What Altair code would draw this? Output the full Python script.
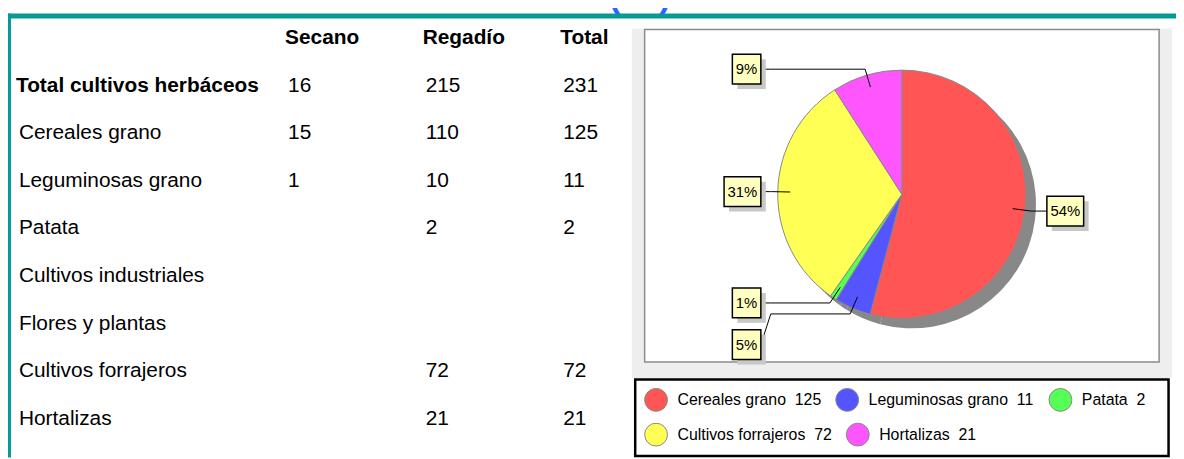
import math
import altair as alt
import pandas as pd

# ---------------- data ----------------
rows = ["Total cultivos herbáceos", "Cereales grano", "Leguminosas grano", "Patata",
        "Cultivos industriales", "Flores y plantas", "Cultivos forrajeros", "Hortalizas"]
cols = ["Secano", "Regadío", "Total"]
secano = [16, 15, 1, None, None, None, None, None]
regadio = [215, 110, 10, 2, None, None, 72, 21]
total = [231, 125, 11, 2, None, None, 72, 21]

pie_cats = ["Cereales grano", "Leguminosas grano", "Patata", "Cultivos forrajeros", "Hortalizas"]
pie_vals = [125, 11, 2, 72, 21]
pie_colors = ["#ff5555", "#5555ff", "#55ff55", "#ffff55", "#ff55ff"]

title_text = "(ha)"

# ---------------- layout (chart coordinates = page - 8) ----------------
W, H = 1176, 451
FONT = "Liberation Sans"
CX, CY, R = 900, 186, 125
TEAL = "#059b95"
TFS = 21  # table font size

# Arial / Liberation Sans advance widths (1/1000 em), used to flow the legend
AW = {" ": 278, "\u00a0": 278, "C": 722, "H": 722, "L": 556, "P": 667,
      "a": 556, "b": 556, "c": 500, "d": 556, "e": 556, "f": 278, "g": 556, "h": 556,
      "i": 222, "j": 222, "k": 500, "l": 222, "m": 833, "n": 556, "o": 556, "p": 556,
      "q": 556, "r": 333, "s": 500, "t": 278, "u": 556, "v": 500, "w": 722, "x": 500,
      "y": 500, "z": 500}


def text_w(s, size):
    return sum(AW.get(ch, 556) for ch in s) / 1000 * size


# ---------------- table ----------------
tbl = []
for i, r in enumerate(rows):
    for c, arr in zip(cols, [secano, regadio, total]):
        if arr[i] is not None:
            tbl.append({"row": r, "col": c, "txt": str(arr[i])})
df_tbl = pd.DataFrame(tbl)
df_head = pd.DataFrame({"row": ["__h__"] * 3, "col": cols})
df_lab = pd.DataFrame({"row": rows, "bold": [True] + [False] * (len(rows) - 1)})

yrow = alt.Scale(type="point", domain=["__h__"] + rows, range=[29, 412], padding=0)
xcol = alt.Scale(type="point", domain=cols, range=[282, 559], padding=0)

values = alt.Chart(df_tbl).mark_text(align="left", baseline="middle", fontSize=TFS, font=FONT, color="black").encode(
    x=alt.X("col:N", scale=xcol, axis=None),
    y=alt.Y("row:N", scale=yrow, axis=None),
    text="txt:N")
header = alt.Chart(df_head).mark_text(align="left", baseline="middle", fontSize=TFS, font=FONT,
                                      fontWeight="bold", color="black", dx=-3).encode(
    x=alt.X("col:N", scale=xcol, axis=None),
    y=alt.Y("row:N", scale=yrow, axis=None),
    text="col:N")
lab_bold = alt.Chart(df_lab).transform_filter("datum.bold").mark_text(
    align="left", baseline="middle", fontSize=TFS, font=FONT, fontWeight="bold", color="black").encode(
    x=alt.value(8), y=alt.Y("row:N", scale=yrow, axis=None), text="row:N")
lab_norm = alt.Chart(df_lab).transform_filter("!datum.bold").mark_text(
    align="left", baseline="middle", fontSize=TFS, font=FONT, color="black").encode(
    x=alt.value(11), y=alt.Y("row:N", scale=yrow, axis=None), text="row:N")

# ---------------- pie ----------------
tot = sum(pie_vals)
leg_labels = [f"{c}\u00a0\u00a0{v}" for c, v in zip(pie_cats, pie_vals)]
df_pie = pd.DataFrame({"cat": pie_cats, "value": pie_vals, "idx": list(range(len(pie_vals))),
                       "leg": leg_labels})
cscale = alt.Scale(domain=pie_cats, range=pie_colors)

shadow = alt.Chart(df_pie).mark_arc(outerRadius=R, xOffset=10, yOffset=10, color="#888888").encode(
    theta=alt.Theta("value:Q", stack=True), order=alt.Order("idx:Q"),
    x=alt.value(CX), y=alt.value(CY))

pie = alt.Chart(df_pie).mark_arc(outerRadius=R, stroke="#888888", strokeWidth=1).encode(
    theta=alt.Theta("value:Q", stack=True),
    order=alt.Order("idx:Q"),
    x=alt.value(CX), y=alt.value(CY),
    color=alt.Color("cat:N", scale=cscale, legend=None))

sx = alt.Scale(domain=[0, W], nice=False, zero=False)
sy = alt.Scale(domain=[0, H], nice=False, zero=False, reverse=True)

# ---------------- pie labels (computed from slice angles) ----------------
labs = []
cum = 0
for c, v in zip(pie_cats, pie_vals):
    mid = (cum + v / 2) / tot * 2 * math.pi
    cum += v
    pct = f"{round(100 * v / tot)}%"
    side = 1 if math.sin(mid) > 0 else -1
    labs.append({
        "lab": pct, "side": side,
        "x0": CX + 0.9 * R * math.sin(mid), "y0": CY - 0.9 * R * math.cos(mid),
        "x1": CX + 1.05 * R * math.sin(mid), "y1": CY - 1.05 * R * math.cos(mid),
    })
for s in (-1, 1):
    grp = sorted([l for l in labs if l["side"] == s], key=lambda l: l["y1"])
    prev = -1e9
    for l in grp:
        l["by"] = max(l["y1"], prev + 42)
        prev = l["by"]

boxes, lines = [], []
for l in labs:
    bw = text_w(l["lab"], 15) + 12
    if l["side"] < 0:
        edge = CX - (R + 17)
        bx = edge - bw / 2
        ex = edge + 10
    else:
        edge = CX + R + 21
        bx = edge + bw / 2
        ex = edge - 10
    boxes.append({"lab": l["lab"], "bx": bx, "by": l["by"],
                  "xa": bx - bw / 2, "xb": bx + bw / 2, "ya": l["by"] - 15, "yb": l["by"] + 15,
                  "sxa": bx - bw / 2 + 5, "sxb": bx + bw / 2 + 5, "sya": l["by"] - 10, "syb": l["by"] + 20})
    pts = [(l["x0"], l["y0"]), (l["x1"], l["y1"]), (ex, l["y1"]), (edge, l["by"])]
    for k, (px, py) in enumerate(pts):
        lines.append({"lab": l["lab"], "k": k, "px": px, "py": py})
df_box = pd.DataFrame(boxes)
df_line = pd.DataFrame(lines)

leader = alt.Chart(df_line).mark_line(color="black", strokeWidth=1).encode(
    x=alt.X("px:Q", scale=sx, axis=None), y=alt.Y("py:Q", scale=sy, axis=None),
    detail="lab:N", order="k:Q")
box_sh = alt.Chart(df_box).mark_rect(color="#c8c8c8").encode(
    x=alt.X("sxa:Q", scale=sx, axis=None), x2="sxb:Q",
    y=alt.Y("sya:Q", scale=sy, axis=None), y2="syb:Q")
box = alt.Chart(df_box).mark_rect(fill="#ffffc0", stroke="black", strokeWidth=1.5).encode(
    x=alt.X("xa:Q", scale=sx, axis=None), x2="xb:Q",
    y=alt.Y("ya:Q", scale=sy, axis=None), y2="yb:Q")
box_t = alt.Chart(df_box).mark_text(fontSize=15, font=FONT, color="black", align="center", baseline="middle").encode(
    x=alt.X("bx:Q", scale=sx, axis=None), y=alt.Y("by:Q", scale=sy, axis=None), text="lab:N")

# ---------------- legend (flowed, two rows of items) ----------------
leg_rows = [0, 0, 0, 1, 1]
row_y = [393, 428]
items = []
x0 = 641
for i, (c, lab) in enumerate(zip(pie_cats, leg_labels)):
    if i > 0 and leg_rows[i] != leg_rows[i - 1]:
        x0 = 641
    items.append({"cat": c, "leg": lab, "cx": x0 + 11.5, "tx": x0 + 33, "ly": row_y[leg_rows[i]]})
    x0 = x0 + 33 + text_w(lab, 16) + 14.5
df_leg = pd.DataFrame(items)

leg_sym = alt.Chart(df_leg).mark_point(shape="circle", filled=True, size=529, opacity=1,
                                        stroke="#888888", strokeWidth=1).encode(
    x=alt.X("cx:Q", scale=sx, axis=None), y=alt.Y("ly:Q", scale=sy, axis=None),
    fill=alt.Fill("cat:N", scale=cscale, legend=None))
leg_txt = alt.Chart(df_leg).mark_text(align="left", baseline="middle", fontSize=16, font=FONT, color="black").encode(
    x=alt.X("tx:Q", scale=sx, axis=None), y=alt.Y("ly:Q", scale=sy, axis=None), text="leg:N")

# ---------------- decorations ----------------
one = pd.DataFrame({"a": [0]})
gray_bg = alt.Chart(one).mark_rect(color="#eeeeee").encode(
    x=alt.value(628), x2=alt.value(1172), y=alt.value(19), y2=alt.value(371))
white_box = alt.Chart(one).mark_rect(fill="white", stroke="#8c8c8c", strokeWidth=1.5).encode(
    x=alt.value(641), x2=alt.value(1159), y=alt.value(20), y2=alt.value(355))
legend_box = alt.Chart(one).mark_rect(fill="white", stroke="black", strokeWidth=2.5).encode(
    x=alt.value(631.5), x2=alt.value(1168.5), y=alt.value(372.5), y2=alt.value(449.5))
teal_top = alt.Chart(one).mark_rule(color=TEAL, strokeWidth=5).encode(
    x=alt.value(0), x2=alt.value(W), y=alt.value(6.5))
teal_left = alt.Chart(one).mark_rule(color=TEAL, strokeWidth=3).encode(
    x=alt.value(1.5), y=alt.value(4), y2=alt.value(H))
title = alt.Chart(one).mark_text(text=title_text, fontSize=34, font=FONT, fontWeight="bold", color="#2f62ff",
                                 align="left", baseline="alphabetic").encode(
    x=alt.value(605), y=alt.value(-3))

chart = alt.layer(
    gray_bg, white_box, legend_box, teal_top, teal_left, title,
    values, header, lab_bold, lab_norm,
    shadow, pie, leader, box_sh, box, box_t, leg_sym, leg_txt
).resolve_scale(x="independent", y="independent").properties(
    width=W, height=H, padding=0, autosize=alt.AutoSizeParams(type="none"),
    background="white"
).configure_view(stroke=None)

chart.save("out.html", embed_options={"renderer": "svg", "actions": False})
